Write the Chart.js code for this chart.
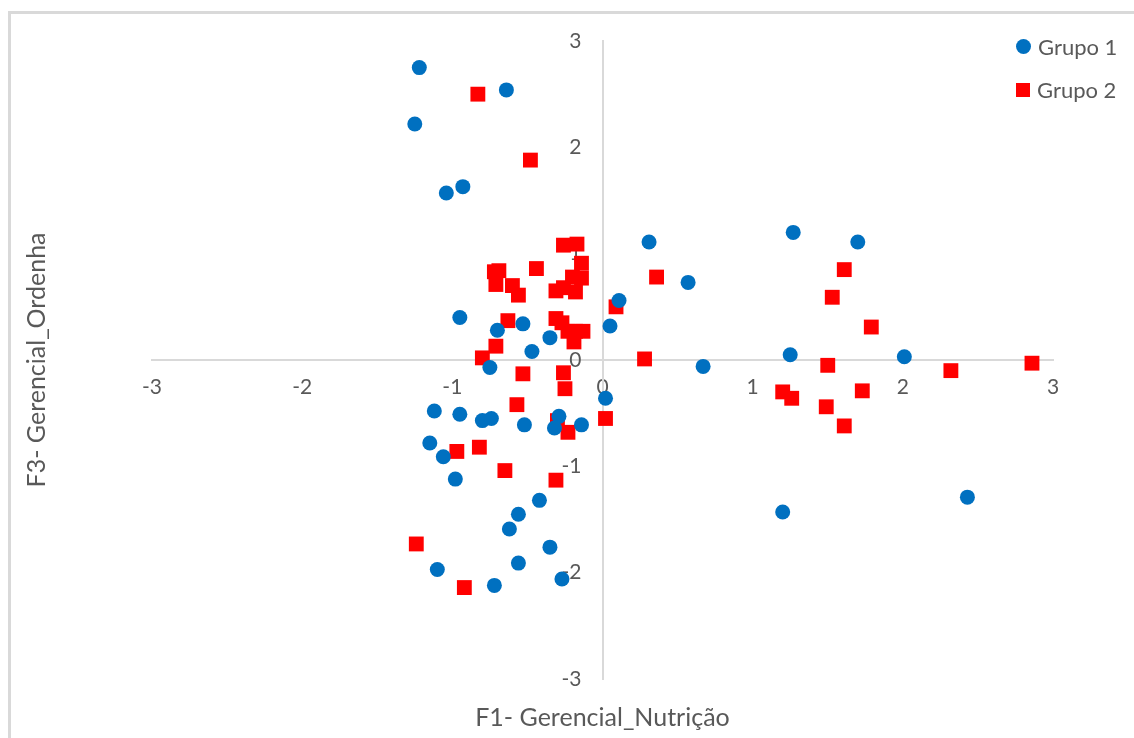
<!DOCTYPE html>
<html>
<head>
<meta charset="utf-8">
<script src="https://cdn.jsdelivr.net/npm/chart.js@4.4.1/dist/chart.umd.min.js"></script>
<style>
  html, body { margin: 0; padding: 0; background: #fff; overflow: hidden; }
  #wrap { position: relative; width: 1134px; height: 738px; }
  #frame { position: absolute; left: 8px; top: 11px; width: 1200px; height: 800px;
           border-left: 3px solid #d9d9d9; border-top: 3px solid #d9d9d9; }
  canvas { position: absolute; left: 0; top: 0; }
  .legend { position: absolute; left: 1016px; top: 25px; font-family: Lato, "Open Sans", sans-serif;
            font-size: 22px; color: #595959; }
  .legend .item { display: flex; align-items: center; height: 43px; }
  .legend .mark { width: 15px; height: 15px; margin-right: 7px; }
  .legend .dot { background: #0070c0; border-radius: 50%; }
  .legend .sq { background: #ff0000; width: 14px; height: 14px; }
</style>
</head>
<body>
<div id="wrap">
  <div id="frame"></div>
  <canvas id="scatter" width="1134" height="738"></canvas>
  <div class="legend">
    <div class="item"><span class="mark dot"></span>Grupo 1</div>
    <div class="item"><span class="mark sq"></span>Grupo 2</div>
  </div>
</div>
<script>
// Grupo 1 (círculos azuis)
const grupo1X = [-1.22, -1.25, -0.64, -1.04, -0.93, 0.31, 1.27, 1.70, 0.57, 0.11,
                 0.05, -0.95, -0.70, -0.53, -0.35, -0.47, -0.75, 0.67, 1.25, 2.01,
                 0.02, -1.12, -0.95, -0.80, -0.74, -0.52, -0.29, -0.32, -0.14, -1.15,
                 -1.06, -0.98, -0.42, -0.56, -0.62, -0.35, -1.10, -0.56, -0.72, -0.27,
                 1.20, 2.43];
const grupo1Y = [2.75, 2.22, 2.54, 1.57, 1.63, 1.11, 1.20, 1.11, 0.73, 0.56,
                 0.32, 0.40, 0.28, 0.34, 0.21, 0.08, -0.07, -0.06, 0.05, 0.03,
                 -0.36, -0.48, -0.51, -0.57, -0.55, -0.61, -0.53, -0.64, -0.61, -0.78,
                 -0.91, -1.12, -1.32, -1.45, -1.59, -1.76, -1.97, -1.91, -2.12, -2.06,
                 -1.43, -1.29];

// Grupo 2 (quadrados vermelhos)
const grupo2X = [-0.83, -0.48, -0.26, -0.17, -0.14, -0.72, -0.69, -0.71, -0.60, -0.56,
                 -0.44, -0.31, -0.26, -0.18, -0.20, -0.14, -0.63, -0.31, -0.27, -0.23,
                 -0.18, -0.13, -0.19, -0.71, -0.80, -0.53, -0.26, -0.25, -0.57, -0.30,
                 -0.23, 0.02, 0.09, 0.36, 0.28, 1.61, 1.53, 1.79, 1.50, 2.32,
                 2.86, 1.20, 1.26, 1.73, 1.49, 1.61, -0.97, -0.82, -0.65, -0.31,
                 -1.24, -0.92];
const grupo2Y = [2.50, 1.88, 1.08, 1.09, 0.91, 0.83, 0.84, 0.71, 0.70, 0.61,
                 0.86, 0.65, 0.68, 0.64, 0.78, 0.77, 0.37, 0.39, 0.35, 0.27,
                 0.27, 0.27, 0.17, 0.13, 0.02, -0.13, -0.12, -0.27, -0.42, -0.57,
                 -0.68, -0.55, 0.50, 0.78, 0.01, 0.85, 0.59, 0.31, -0.05, -0.10,
                 -0.03, -0.30, -0.36, -0.29, -0.44, -0.62, -0.86, -0.82, -1.04, -1.13,
                 -1.73, -2.14];

const axisTicks = [-3, -2, -1, 0, 1, 2, 3];

function toPoints(xs, ys) {
    return xs.map((x, i) => ({ x: x, y: ys[i] }));
}

const grey = '#595959';
const tickFont = { family: 'Lato, "Open Sans", sans-serif', size: 21 };
const titleFont = { family: 'Lato, "Open Sans", sans-serif', size: 25 };
const setTicks = (scale) => { scale.ticks = axisTicks.map(v => ({ value: v })); };

const ctx = document.getElementById('scatter').getContext('2d');
new Chart(ctx, {
    type: 'scatter',
    data: {
        datasets: [{
            label: 'Grupo 1',
            data: toPoints(grupo1X, grupo1Y),
            xAxisID: 'x',
            yAxisID: 'y',
            pointStyle: 'circle',
            pointRadius: 7.5,
            pointHoverRadius: 7.5,
            pointBorderWidth: 0,
            backgroundColor: '#0070c0',
            borderColor: '#0070c0'
        }, {
            label: 'Grupo 2',
            data: toPoints(grupo2X, grupo2Y),
            xAxisID: 'x',
            yAxisID: 'y',
            pointStyle: 'rect',
            pointRadius: 10.5,
            pointHoverRadius: 10.5,
            pointBorderWidth: 0,
            backgroundColor: '#ff0000',
            borderColor: '#ff0000'
        }]
    },
    options: {
        responsive: false,
        animation: false,
        layout: {
            padding: { left: 22, top: 41, right: 81, bottom: 0 }
        },
        plugins: {
            legend: { display: false },
            tooltip: { enabled: false }
        },
        scales: {
            // horizontal axis line through y = 0, with its labels below
            x: {
                type: 'linear',
                position: { y: 0 },
                min: -3,
                max: 3,
                afterBuildTicks: setTicks,
                afterFit: (scale) => { scale.height = 0; },
                grid: { display: false, drawTicks: false },
                border: { display: true, color: '#d9d9d9', width: 2 },
                ticks: { color: grey, font: tickFont, padding: 15, maxRotation: 0 }
            },
            // vertical axis line through x = 0
            y: {
                type: 'linear',
                position: { x: 0 },
                min: -3,
                max: 3,
                afterBuildTicks: setTicks,
                afterFit: (scale) => { scale.width = 0; },
                grid: { display: false, drawTicks: false },
                border: { display: true, color: '#d9d9d9', width: 2 },
                ticks: { display: false }
            },
            // labels of the vertical axis, set a little left of the line
            yl: {
                type: 'linear',
                axis: 'y',
                position: { x: -0.14 },
                min: -3,
                max: 3,
                afterBuildTicks: setTicks,
                afterFit: (scale) => { scale.width = 0; },
                grid: { display: false, drawTicks: false },
                border: { display: false },
                ticks: { color: grey, font: tickFont }
            },
            xt: {
                type: 'linear',
                axis: 'x',
                position: 'bottom',
                min: -3,
                max: 3,
                afterFit: (scale) => { scale.height = 59; },
                grid: { display: false, drawTicks: false },
                border: { display: false },
                ticks: { display: false },
                title: {
                    display: true,
                    text: 'F1- Gerencial_Nutrição',
                    color: grey,
                    font: titleFont,
                    padding: { top: 0, bottom: 5 }
                }
            },
            yt: {
                type: 'linear',
                axis: 'y',
                position: 'left',
                min: -3,
                max: 3,
                afterFit: (scale) => { scale.width = 130; },
                grid: { display: false, drawTicks: false },
                border: { display: false },
                ticks: { display: false },
                title: {
                    display: true,
                    text: 'F3- Gerencial_Ordenha',
                    color: grey,
                    font: titleFont,
                    padding: { top: 0, bottom: 0 }
                }
            }
        }
    }
});
</script>
</body>
</html>
